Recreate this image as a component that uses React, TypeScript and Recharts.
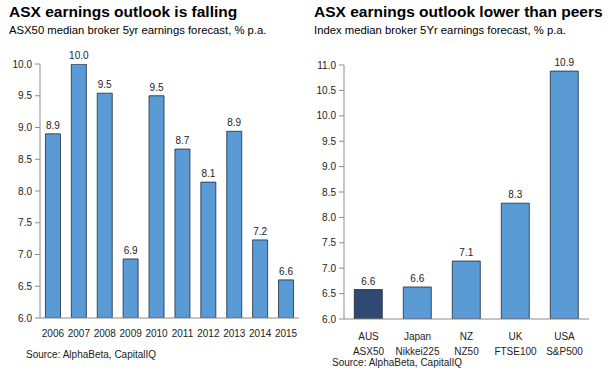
import React from "react";
import { BarChart, Bar, XAxis, YAxis, Cell, LabelList } from "recharts";

// left panel: ASX50 forecast by year
const years = ["2006", "2007", "2008", "2009", "2010", "2011", "2012", "2013", "2014", "2015"];
const asxForecast = [8.9, 10.0, 9.54, 6.93, 9.5, 8.66, 8.14, 8.94, 7.23, 6.6];
const leftTicks = [6.0, 6.5, 7.0, 7.5, 8.0, 8.5, 9.0, 9.5, 10.0];

// right panel: peers
const markets = ["AUS", "Japan", "NZ", "UK", "USA"];
const indices = ["ASX50", "Nikkei225", "NZ50", "FTSE100", "S&P500"];
const peerForecast = [6.58, 6.63, 7.14, 8.28, 10.88];
const rightTicks = [6.0, 6.5, 7.0, 7.5, 8.0, 8.5, 9.0, 9.5, 10.0, 10.5, 11.0];

const FONT = "'Liberation Sans', Arial, sans-serif";
const BLUE = "#5b9bd5";
const DARK = "#2f4a72";
const EDGE = "#1d2b3c";
const AXIS = "#8c8c8c";

const leftData = years.map((y, i) => ({ year: y, value: asxForecast[i] }));
const rightData = markets.map((m, i) => ({ market: m, index: indices[i], value: peerForecast[i] }));

const fmt = (v: any) => Number(v).toFixed(1);

const TwoLineTick = (props: any) => {
  const { x, y, payload } = props;
  const idx = markets.indexOf(payload.value);
  return (
    <g transform={`translate(${x},${y})`}>
      <text textAnchor="middle" fontSize={10} fill="#222" fontFamily={FONT}>
        <tspan x={0} dy={13}>{payload.value}</tspan>
        <tspan x={0} dy={15}>{indices[idx]}</tspan>
      </text>
    </g>
  );
};

const titleStyle: React.CSSProperties = {
  position: "absolute",
  fontFamily: FONT,
  fontWeight: "bold",
  fontSize: 15.5,
  color: "#000",
  whiteSpace: "nowrap",
  lineHeight: "18px",
};
const subStyle: React.CSSProperties = {
  position: "absolute",
  fontFamily: FONT,
  fontSize: 11.3,
  color: "#000",
  whiteSpace: "nowrap",
  lineHeight: "14px",
};
const srcStyle: React.CSSProperties = {
  position: "absolute",
  fontFamily: FONT,
  fontSize: 10,
  color: "#222",
  whiteSpace: "nowrap",
  lineHeight: "12px",
};

export default function App() {
  return (
    <div style={{ position: "fixed", left: 0, top: 0, width: 615, height: 373, background: "#fff", overflow: "hidden" }}>
      <div style={{ ...titleStyle, left: 9, top: 3 }}>ASX earnings outlook is falling</div>
      <div style={{ ...subStyle, left: 9, top: 23 }}>ASX50 median broker 5yr earnings forecast, % p.a.</div>
      <div style={{ ...titleStyle, left: 314, top: 3 }}>ASX earnings outlook lower than peers</div>
      <div style={{ ...subStyle, left: 314, top: 23 }}>Index median broker 5Yr earnings forecast, % p.a.</div>

      <div style={{ position: "absolute", left: 0, top: 0 }}>
        <BarChart width={310} height={373} data={leftData} margin={{ top: 64, right: 11, left: 0, bottom: 25 }} barCategoryGap="21%">
          <XAxis
            dataKey="year"
            axisLine={{ stroke: AXIS }}
            tickLine={false}
            tickMargin={6}
            interval={0}
            tick={{ fill: "#222", fontSize: 10, fontFamily: FONT }}
            height={30}
          />
          <YAxis
            domain={[6, 10]}
            ticks={leftTicks}
            tickFormatter={fmt}
            width={40}
            axisLine={{ stroke: AXIS }}
            tickLine={{ stroke: AXIS }}
            tickSize={5}
            tickMargin={3}
            tick={{ fill: "#222", fontSize: 10, fontFamily: FONT }}
            allowDataOverflow
          />
          <Bar dataKey="value" fill={BLUE} stroke={EDGE} strokeWidth={0.8} isAnimationActive={false}>
            <LabelList dataKey="value" position="top" formatter={fmt} style={{ fill: "#222", fontSize: 10, fontFamily: FONT }} />
          </Bar>
        </BarChart>
      </div>

      <div style={{ position: "absolute", left: 310, top: 0 }}>
        <BarChart width={305} height={373} data={rightData} margin={{ top: 65, right: 26, left: 0, bottom: 19 }} barCategoryGap="21%">
          <XAxis
            dataKey="market"
            axisLine={{ stroke: AXIS }}
            tickLine={false}
            interval={0}
            tick={<TwoLineTick />}
            height={35}
          />
          <YAxis
            domain={[6, 11]}
            ticks={rightTicks}
            tickFormatter={fmt}
            width={34}
            axisLine={{ stroke: AXIS }}
            tickLine={{ stroke: AXIS }}
            tickSize={5}
            tickMargin={3}
            tick={{ fill: "#222", fontSize: 10, fontFamily: FONT }}
            allowDataOverflow
          />
          <Bar dataKey="value" fill={BLUE} stroke={EDGE} strokeWidth={0.8} isAnimationActive={false}>
            {rightData.map((_, i) => (
              <Cell key={`cell-${i}`} fill={i === 0 ? DARK : BLUE} />
            ))}
            <LabelList dataKey="value" position="top" formatter={fmt} style={{ fill: "#222", fontSize: 10, fontFamily: FONT }} />
          </Bar>
        </BarChart>
      </div>

      <div style={{ ...srcStyle, left: 26, top: 349 }}>Source: AlphaBeta, CapitalIQ</div>
      <div style={{ ...srcStyle, left: 332, top: 357 }}>Source: AlphaBeta, CapitalIQ</div>
    </div>
  );
}
